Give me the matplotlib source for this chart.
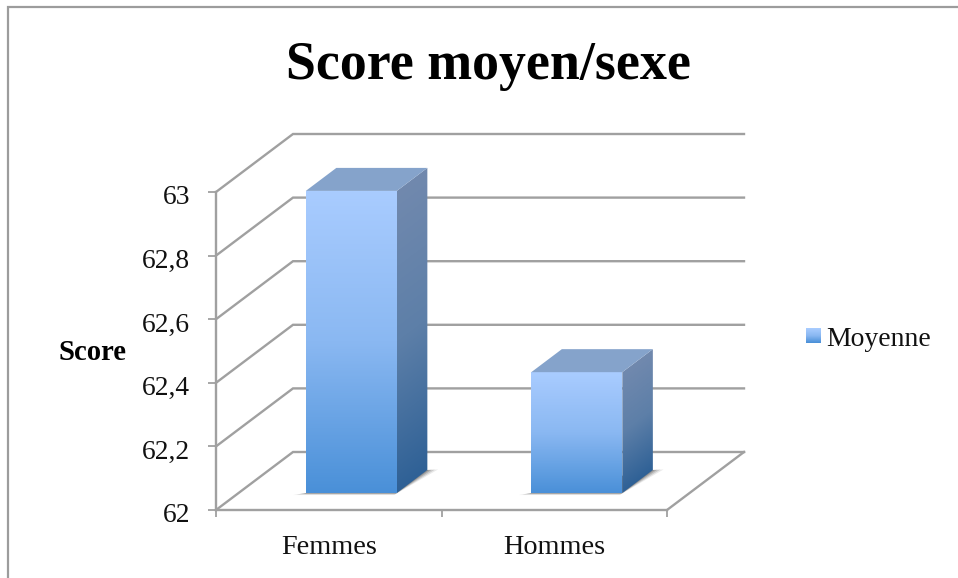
import numpy as np
import matplotlib
matplotlib.use("Agg")
import matplotlib.pyplot as plt
from matplotlib.colors import LinearSegmentedColormap
from matplotlib.image import BboxImage
from matplotlib.legend_handler import HandlerBase
from matplotlib.lines import Line2D
from matplotlib.patches import Patch, Polygon
from matplotlib.transforms import Bbox, ScaledTranslation, TransformedBbox

categories = ["Femmes", "Hommes"]
moyenne = [62.95, 62.38]
y_ticks = [62, 62.2, 62.4, 62.6, 62.8, 63]
y_labels = ["62", "62,2", "62,4", "62,6", "62,8", "63"]
title = "Score moyen/sexe"
y_title = "Score"
series_name = "Moyenne"

W, H = 958, 578
plt.rcParams["font.family"] = ["Liberation Serif", "DejaVu Serif"]
fig = plt.figure(figsize=(W / 100, H / 100), dpi=100, facecolor="white")
X0, X1, YB, YT = 216, 667, 510, 192
ax = fig.add_axes([X0 / W, 1 - YB / H, (X1 - X0) / W, (YB - YT) / H])
ax.patch.set_visible(False)
XMIN, XMAX, YMIN, YMAX = -0.5, 1.5, 62.0, 63.0
PX, PY = (X1 - X0) / (XMAX - XMIN), (YB - YT) / (YMAX - YMIN)
DX, DY = 77 / PX, 58 / PY   # full depth of the 3-D box, in data units
GREY = "#a0a0a0"
LW = 1.7


def proj(x, y, d=0.0):
    return x + d * DX, y + d * DY


# walls and floor
for t in y_ticks:
    a, b = proj(XMIN, t, 0), proj(XMIN, t, 1)
    c = proj(XMAX, t, 1)
    ax.plot([a[0], b[0], c[0]], [a[1], b[1], c[1]], color=GREY, lw=LW,
            clip_on=False, zorder=1, solid_joinstyle="miter")
a, b = proj(XMAX, YMIN, 0), proj(XMAX, YMIN, 1)
ax.plot([a[0], b[0]], [a[1], b[1]], color=GREY, lw=LW, clip_on=False, zorder=1)

front_cm = LinearSegmentedColormap.from_list("f", ["#a9ccff", "#8ab8f2", "#4a90d8"])
side_cm = LinearSegmentedColormap.from_list("s", ["#7189ae", "#5d7fa8", "#2f6196"])
BAR_W = 91 / PX
D0, D1 = 17 / 58, 40 / 58


def gradient_face(pts, cmap, zorder, shear=0.0):
    xs, ys = zip(*pts)
    ext = [min(xs), max(xs), min(ys), max(ys)]
    u, v = np.meshgrid(np.linspace(0, 1, 80), np.linspace(0, 1, 300))
    t = np.clip((v - shear * (1 - u)) / (1 - shear), 0, 1)
    im = ax.imshow(t, extent=ext, cmap=cmap, vmin=0, vmax=1, aspect="auto",
                   origin="upper", zorder=zorder, interpolation="bilinear")
    im.set_clip_box(fig.bbox)
    im.set_clip_path(Polygon(pts, closed=True, transform=ax.transData))


for i, v in enumerate(moyenne):
    l, r = i - BAR_W / 2, i + BAR_W / 2
    # soft shadow on the floor
    for k, alpha in [(1.0, 0.12), (0.7, 0.2), (0.4, 0.28), (0.15, 0.36)]:
        e = k * 10 / PX
        sh = [proj(l - e, YMIN, D0 - k * 0.035), proj(r, YMIN, D0 - k * 0.035),
              proj(r + e, YMIN, D1 + k * 0.01), proj(r, YMIN, D1), proj(l, YMIN, D0)]
        ax.add_patch(Polygon(sh, closed=True, fc="#555555", ec="none", alpha=alpha,
                             zorder=2, clip_on=False))
    top = v
    front = [proj(l, YMIN, D0), proj(r, YMIN, D0), proj(r, top, D0), proj(l, top, D0)]
    side = [proj(r, YMIN, D0), proj(r, YMIN, D1), proj(r, top, D1), proj(r, top, D0)]
    lid = [proj(l, top, D0), proj(r, top, D0), proj(r, top, D1), proj(l, top, D1)]
    gradient_face(front, front_cm, 3)
    gradient_face(side, side_cm, 3, shear=23 / (PY * (top - YMIN) + 23))
    ax.add_patch(Polygon(lid, closed=True, fc="#85a3cb", ec="none", zorder=3, clip_on=False))

ax.set_xlim(XMIN, XMAX)
ax.set_ylim(YMIN, YMAX)
for s in ("top", "right"):
    ax.spines[s].set_visible(False)
for s in ("left", "bottom"):
    ax.spines[s].set_color(GREY)
    ax.spines[s].set_linewidth(LW)
    ax.spines[s].set_zorder(1)
ax.set_yticks(y_ticks, y_labels)
ax.set_xticks([XMIN, 0.5, XMAX], ["", "", ""])
ax.set_xticks([0, 1], categories, minor=True)
ax.tick_params(axis="y", length=5.8, width=1.3, color=GREY, pad=13, labelsize=19.8, labelcolor="#111111")
ax.tick_params(axis="x", which="major", length=5, width=1.3, color=GREY)
ax.tick_params(axis="x", which="minor", length=0, pad=18, labelsize=20.3, labelcolor="#111111")
shift = ScaledTranslation(0, -3 / 100, fig.dpi_scale_trans)
for lab in ax.get_yticklabels():
    lab.set_transform(lab.get_transform() + shift)

fig.text(488.5 / W, 1 - 79 / H, title, ha="center", va="baseline", fontsize=38.8, fontweight="bold", color="black")
fig.text(92 / W, 1 - 353 / H, y_title, ha="center", va="center", fontsize=20.6, fontweight="bold", color="black")


class GradientHandler(HandlerBase):
    def create_artists(self, legend, orig, xd, yd, w, h, fontsize, trans):
        s = 15 / 100 * 72
        box = Bbox.from_bounds(-xd, -yd + (h - s) / 2, s, s)
        img = BboxImage(TransformedBbox(box, trans), cmap=front_cm, norm=plt.Normalize(0, 1),
                        origin="upper", interpolation="bilinear")
        img.set_data(np.linspace(0, 1, 32).reshape(-1, 1))
        return [img]


handle = Patch(color="#8ab8f2", label=series_name)
ax.legend(handles=[handle], handler_map={Patch: GradientHandler()}, frameon=False,
          bbox_to_anchor=(806 / W, 1 - 339 / H), bbox_transform=fig.transFigure,
          loc="center left", borderaxespad=0, borderpad=0, handlelength=0.55, handletextpad=0.18,
          fontsize=20, labelcolor="#111111")

# outer chart frame
fig.add_artist(Line2D([8 / W, 8 / W, 1], [0, 1 - 6.5 / H, 1 - 6.5 / H], color="#9c9c9c", lw=1.6,
                      transform=fig.transFigure, solid_joinstyle="miter"))
fig.savefig("out.png", dpi=100, facecolor="white")
